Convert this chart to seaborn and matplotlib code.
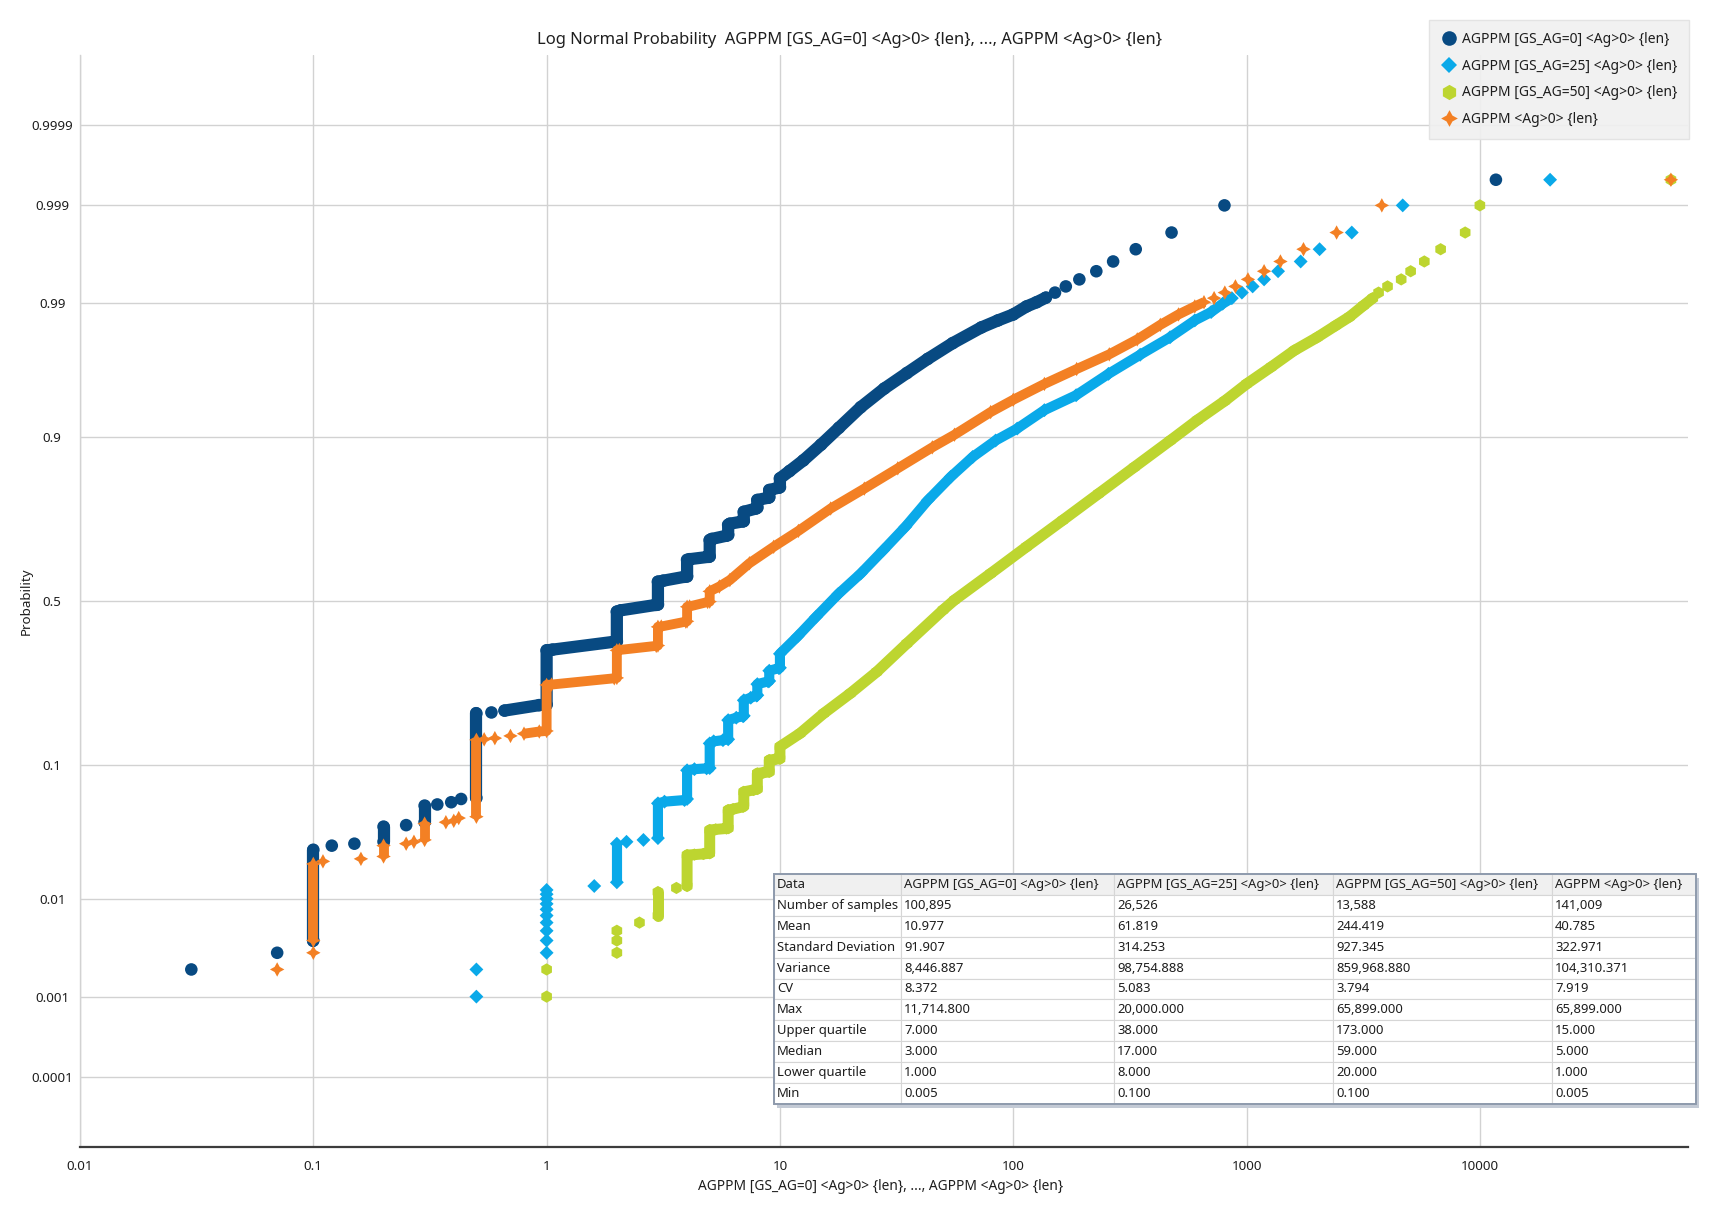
import math
from statistics import NormalDist
import numpy as np
import pandas as pd
import matplotlib
matplotlib.use("Agg")
import matplotlib.pyplot as plt
from matplotlib.lines import Line2D
from matplotlib.patches import Rectangle
from matplotlib.ticker import NullLocator, FixedLocator
import seaborn as sns

# ---------------- data ----------------
series_names = ["AGPPM [GS_AG=0] <Ag>0> {len}", "AGPPM [GS_AG=25] <Ag>0> {len}",
                "AGPPM [GS_AG=50] <Ag>0> {len}", "AGPPM <Ag>0> {len}"]

# GS_AG=0 : value, probability, run id (points of one run are joined)
a_x = [0.03, 0.07, 0.1, 0.1, 0.12, 0.15, 0.2, 0.2, 0.25, 0.3, 0.3, 0.34, 0.39, 0.43,
       0.5, 0.5, 0.58, 0.66, 0.93,
       1, 1, 1.06, 1.94, 2, 2, 2.08, 2.95, 3, 3, 3.16, 3.9, 4, 4, 4.1, 4.95, 5, 5, 5.1, 5.9,
       6, 6, 6.1, 6.95, 7, 7, 7.9, 8, 8, 8.9, 9, 9, 9.9, 10, 10, 11, 12.6, 15, 17.9, 22.2,
       28, 35, 43, 55, 73, 86, 100, 114, 126, 138,
       151, 168, 192, 227, 268, 335, 477, 804, 11715]
a_p = [0.002, 0.003, 0.004, 0.026, 0.028, 0.029, 0.030, 0.039, 0.040, 0.042, 0.055, 0.056, 0.058, 0.061,
       0.062, 0.19, 0.192, 0.196, 0.208,
       0.209, 0.350, 0.352, 0.375, 0.376, 0.467, 0.471, 0.488, 0.489, 0.560, 0.563, 0.575, 0.576, 0.626,
       0.628, 0.635, 0.636, 0.683, 0.686, 0.695, 0.697, 0.724, 0.727, 0.733, 0.734, 0.757, 0.765, 0.767,
       0.785, 0.790, 0.791, 0.807, 0.812, 0.813, 0.831, 0.845, 0.864, 0.889, 0.912, 0.935,
       0.9515, 0.9625, 0.9707, 0.978, 0.9837, 0.9858, 0.9874, 0.9893, 0.9902, 0.9911,
       0.992, 0.993, 0.994, 0.995, 0.996, 0.997, 0.998, 0.999, 0.9995]
a_run = [0, 1, 2, 2, 3, 4, 5, 5, 6, 7, 7, 8, 9, 10,
         11, 11, 12, 13, 13] + [14] * 50 + [15, 16, 17, 18, 19, 20, 21, 22, 23]

# GS_AG=25
b_x = [0.5, 0.5, 1, 1, 1, 1, 1, 1, 1, 1, 1, 1, 1.6, 2, 2, 2.2, 2.6,
       3, 3, 3.2, 3.9, 4, 4, 4.3, 4.85, 5, 5, 5.2, 5.7, 6, 6, 6.5, 6.95, 7, 7, 7.5, 7.95, 8, 8,
       8.9, 9, 9, 9.9, 10, 10, 11.9, 14.3, 17.8, 22.2, 27.7, 34.5, 43, 54, 67, 84, 104, 136,
       186, 256, 350, 470, 600, 705, 790, 865,
       955, 1062, 1189, 1365, 1706, 2056, 2825, 4670, 20000]
b_p = [0.001, 0.002, 0.003, 0.004, 0.005, 0.006, 0.007, 0.008, 0.009, 0.010, 0.011, 0.012, 0.013,
       0.014, 0.029, 0.030, 0.031,
       0.032, 0.057, 0.0585, 0.060, 0.061, 0.093, 0.0945, 0.0956, 0.096, 0.133, 0.1365, 0.1385,
       0.140, 0.176, 0.181, 0.184, 0.185, 0.219, 0.225, 0.230, 0.231, 0.258, 0.265, 0.266, 0.293,
       0.300, 0.301, 0.340, 0.391, 0.451, 0.522, 0.585, 0.654, 0.719, 0.784, 0.834, 0.8697, 0.895,
       0.911, 0.932, 0.946, 0.962, 0.9728, 0.9803, 0.9858, 0.988, 0.9899, 0.991,
       0.992, 0.993, 0.994, 0.995, 0.996, 0.997, 0.998, 0.999, 0.9995]
b_run = list(range(13)) + [13, 13, 14, 15] + [16] * 48 + list(range(17, 26))

# GS_AG=50
c_x = [1, 1, 2, 2, 2, 2.5, 3, 3, 3.6,
       4, 4, 4.3, 4.7, 5, 5, 5.3, 5.9, 6, 6, 6.3, 6.95, 7, 7, 7.7, 8, 8, 8.5, 9, 9, 9.5, 10, 10,
       12.2, 15.4, 20, 26, 35, 50, 56, 80, 114, 163, 232, 330, 471, 614, 807, 1000, 1274, 1600,
       2010, 2412, 2765, 3170, 3475,
       3680, 4020, 4600, 5050, 5780, 6790, 8650, 10000, 65899]
c_p = [0.001, 0.002, 0.003, 0.004, 0.005, 0.006, 0.007, 0.0115, 0.0125,
       0.013, 0.0236, 0.0238, 0.0241, 0.0244, 0.0368, 0.0372, 0.0378, 0.038, 0.0512, 0.052, 0.054,
       0.055, 0.068, 0.070, 0.071, 0.089, 0.090, 0.091, 0.107, 0.108, 0.109, 0.1276,
       0.1506, 0.19, 0.235, 0.29, 0.37, 0.472, 0.503, 0.585, 0.664, 0.736, 0.799, 0.852, 0.895,
       0.921, 0.941, 0.955, 0.9662, 0.9748, 0.9803, 0.9843, 0.9868, 0.9895, 0.991,
       0.992, 0.993, 0.994, 0.995, 0.996, 0.997, 0.998, 0.999, 0.9995]
c_run = [0, 1, 2, 3, 4, 5, 6, 6, 7] + [8] * 46 + list(range(9, 18))

# all samples
d_x = [0.07, 0.1, 0.1, 0.1, 0.11, 0.16, 0.2, 0.2, 0.25, 0.27, 0.3, 0.3, 0.37, 0.4, 0.42,
       0.5, 0.5, 0.54, 0.6, 0.7,
       0.8, 0.93, 1, 1, 1.05, 1.95, 2, 2, 2.05, 2.95, 3, 3, 3.1, 3.95, 4, 4, 4.1, 4.9, 5, 5,
       5.5, 6.1, 7.4, 9.4, 12, 16.5, 23, 32, 45, 56, 80, 100, 136, 187, 258, 340, 427, 511, 600, 657,
       726, 807, 896, 1014, 1189, 1397, 1754, 2432, 3800, 65899]
d_p = [0.002, 0.003, 0.004, 0.020, 0.021, 0.022, 0.023, 0.028, 0.029, 0.030, 0.031, 0.041, 0.042,
       0.043, 0.045, 0.046, 0.139, 0.140, 0.142, 0.146,
       0.150, 0.154, 0.155, 0.256, 0.257, 0.273, 0.274, 0.350, 0.351, 0.363, 0.364, 0.420, 0.421,
       0.436, 0.437, 0.482, 0.483, 0.497, 0.498, 0.530,
       0.545, 0.565, 0.616, 0.664, 0.708, 0.765, 0.810, 0.850, 0.885, 0.903, 0.930, 0.942, 0.955,
       0.965, 0.973, 0.9795, 0.9845, 0.9874, 0.9893, 0.9902,
       0.991, 0.992, 0.993, 0.994, 0.995, 0.996, 0.997, 0.998, 0.999, 0.9995]
d_run = [0, 1, 2, 2, 3, 4, 5, 5, 6, 7, 8, 8, 9, 10, 11, 12, 12, 13, 14, 15] + [16] * 40 + list(range(17, 27))

x_ticks = [0.01, 0.1, 1, 10, 100, 1000, 10000]
x_tick_labels = ["0.01", "0.1", "1", "10", "100", "1000", "10000"]
p_ticks = [0.0001, 0.001, 0.01, 0.1, 0.5, 0.9, 0.99, 0.999, 0.9999]
p_tick_labels = ["0.0001", "0.001", "0.01", "0.1", "0.5", "0.9", "0.99", "0.999", "0.9999"]

stat_names = ["Number of samples", "Mean", "Standard Deviation", "Variance", "CV", "Max",
              "Upper quartile", "Median", "Lower quartile", "Min"]
stat_a = ["100,895", "10.977", "91.907", "8,446.887", "8.372", "11,714.800", "7.000", "3.000", "1.000", "0.005"]
stat_b = ["26,526", "61.819", "314.253", "98,754.888", "5.083", "20,000.000", "38.000", "17.000", "8.000", "0.100"]
stat_c = ["13,588", "244.419", "927.345", "859,968.880", "3.794", "65,899.000", "173.000", "59.000", "20.000", "0.100"]
stat_d = ["141,009", "40.785", "322.971", "104,310.371", "7.919", "65,899.000", "15.000", "5.000", "1.000", "0.005"]

# ---------------- style ----------------
sns.set_style("white")
plt.rcParams["font.family"] = ["Noto Sans", "DejaVu Sans"]
TXT = "#1e1e1e"
GRID = "#d2d2d2"
colors = ["#084a82", "#0aa9e9", "#bdd530", "#f38024"]
markers = ["o", "D", "h", (4, 1, 0)]
msize = [82, 50, 78, 108]
lws = [8.8, 7.3, 7.9, 7.1]

W, H = 1710, 1205
fig = plt.figure(figsize=(W / 100, H / 100), dpi=100)
ax = fig.add_axes([80 / W, 1 - 1147 / H, 1608 / W, 1092 / H])

_nd = NormalDist()
_ppf = np.vectorize(_nd.inv_cdf, otypes=[float])
_cdf = np.vectorize(_nd.cdf, otypes=[float])


def fwd(p):
    p = np.clip(np.asarray(p, dtype=float), 1e-12, 1 - 1e-12)
    return _ppf(p)


def inv(z):
    return _cdf(np.asarray(z, dtype=float))


frames = []
for name, xs, ps, runs in zip(series_names, [a_x, b_x, c_x, d_x], [a_p, b_p, c_p, d_p],
                              [a_run, b_run, c_run, d_run]):
    frames.append(pd.DataFrame({"x": xs, "p": ps, "run": runs, "series": name}))

for i, df in enumerate(frames):
    caps = "round" if i in (0, 2) else "butt"
    sns.lineplot(data=df, x="x", y="p", units="run", estimator=None, sort=False,
                 color=colors[i], lw=lws[i], solid_capstyle=caps, solid_joinstyle="round",
                 ax=ax, legend=False, zorder=3 + i)
    sns.scatterplot(data=df, x="x", y="p", marker=markers[i], s=msize[i], color=colors[i],
                    edgecolor="none", linewidth=0, ax=ax, legend=False, zorder=3 + i)

ax.set_xscale("log")
ax.set_yscale("function", functions=(fwd, inv))
ax.set_xlim(0.01, 78000)
ax.set_ylim(1e-5, 1 - 1e-5)
ax.xaxis.set_major_locator(FixedLocator(x_ticks))
ax.set_xticklabels(x_tick_labels)
ax.xaxis.set_minor_locator(NullLocator())
ax.yaxis.set_major_locator(FixedLocator(p_ticks))
ax.set_yticklabels(p_tick_labels)
ax.yaxis.set_minor_locator(NullLocator())
ax.set_xlabel("")
ax.set_ylabel("")

ax.grid(True, color=GRID, lw=1.0)
ax.set_axisbelow(True)
for s in ["top", "right"]:
    ax.spines[s].set_visible(False)
ax.spines["left"].set_color(GRID)
ax.spines["left"].set_linewidth(1.0)
ax.spines["bottom"].set_color("#3c3c3c")
ax.spines["bottom"].set_linewidth(1.6)
ax.tick_params(axis="x", length=0, pad=9, labelsize=9.6, labelcolor=TXT)
ax.tick_params(axis="y", length=4, width=1.0, color=GRID, pad=16, labelsize=9.6, labelcolor=TXT)
for lab in ax.get_yticklabels():
    lab.set_horizontalalignment("center")

fig.text(849 / W, 1 - 40 / H, "Log Normal Probability  " + series_names[0] + ", ..., " + series_names[3],
         ha="center", va="center", fontsize=11.9, color=TXT)
fig.text(881 / W, 1 - 1187 / H, series_names[0] + ", ..., " + series_names[3],
         ha="center", va="center", fontsize=9.9, color=TXT)
fig.text(26 / W, 1 - 601 / H, "Probability", rotation=90, ha="center", va="center",
         fontsize=9.6, color=TXT)

handles = [Line2D([], [], ls="none", marker=markers[i], color=colors[i], markeredgewidth=0,
                  markersize=[10.5, 8, 11, 12][i]) for i in range(4)]
leg = fig.legend(handles, series_names, loc="upper right", bbox_to_anchor=(1689 / W, 1 - 20 / H),
                 frameon=True, fancybox=False, facecolor="#f0f0f0", edgecolor="#e2e2e2",
                 framealpha=0.92, fontsize=10, labelspacing=0.85, handletextpad=0.35,
                 handlelength=1.2, borderpad=0.85, borderaxespad=0)
for t in leg.get_texts():
    t.set_color(TXT)

# statistics table
tx0, ty0, tx1, ty1 = 774, 874, 1696, 1104
col_w = [127, 213, 219, 219, 144]
shadow = Rectangle(((tx0 + 3) / W, 1 - (ty1 + 4) / H), (tx1 - tx0) / W, (ty1 - ty0) / H,
                   transform=fig.transFigure, facecolor="#c3cad5", edgecolor="none", zorder=4)
fig.add_artist(shadow)
tab_ax = fig.add_axes([tx0 / W, 1 - ty1 / H, (tx1 - tx0) / W, (ty1 - ty0) / H], zorder=5)
tab_ax.set_axis_off()
rows = [[n, a, b, c, d] for n, a, b, c, d in zip(stat_names, stat_a, stat_b, stat_c, stat_d)]
tbl = tab_ax.table(cellText=rows, colLabels=["Data"] + series_names,
                   colWidths=[w / sum(col_w) for w in col_w], cellLoc="left", colLoc="left",
                   bbox=[0, 0, 1, 1])
tbl.auto_set_font_size(False)
tbl.set_fontsize(9.4)
for (r, c), cell in tbl.get_celld().items():
    cell.set_edgecolor("#d6d6d6")
    cell.set_linewidth(0.8)
    cell.PAD = 3.0 / col_w[c]
    cell.set_facecolor("#f0f0f0" if r == 0 else "white")
    cell.get_text().set_color(TXT)
tab_ax.add_patch(Rectangle((0, 0), 1, 1, transform=tab_ax.transAxes, fill=False,
                           edgecolor="#8e9aac", lw=1.4, clip_on=False, zorder=10))

fig.savefig("out.png", dpi=100, facecolor="white")
